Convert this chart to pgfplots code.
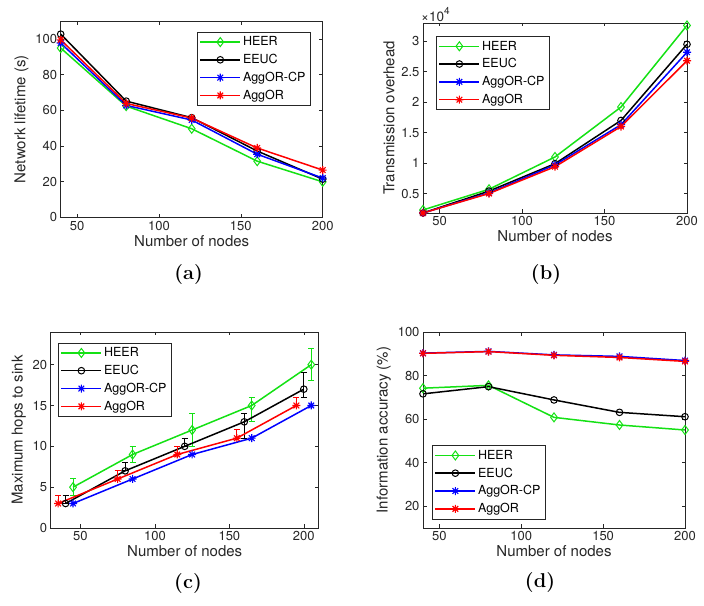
\documentclass[border=0pt]{standalone}
\usepackage{fontspec}
\setsansfont{TeX Gyre Heros}
\usepackage{pgfplots}
\pgfplotsset{compat=1.18}

\definecolor{mgreen}{RGB}{20,225,20}
\definecolor{axgray}{RGB}{38,38,38}

% matlab style asterisk: + and x together
\pgfdeclareplotmark{mstar}{%
  \pgfpathmoveto{\pgfqpoint{-\pgfplotmarksize}{0pt}}\pgfpathlineto{\pgfqpoint{\pgfplotmarksize}{0pt}}%
  \pgfpathmoveto{\pgfqpoint{0pt}{-\pgfplotmarksize}}\pgfpathlineto{\pgfqpoint{0pt}{\pgfplotmarksize}}%
  \pgfpathmoveto{\pgfqpoint{-.707\pgfplotmarksize}{-.707\pgfplotmarksize}}\pgfpathlineto{\pgfqpoint{.707\pgfplotmarksize}{.707\pgfplotmarksize}}%
  \pgfpathmoveto{\pgfqpoint{-.707\pgfplotmarksize}{.707\pgfplotmarksize}}\pgfpathlineto{\pgfqpoint{.707\pgfplotmarksize}{-.707\pgfplotmarksize}}%
  \pgfusepathqstroke}

\pgfplotsset{
  panel/.style={
    scale only axis, anchor=south west, font=\sffamily,
    axis line style={axgray, line width=0.7pt},
    tick style={axgray, line width=0.6pt}, major tick length=3.5pt, tick align=inside,
    tick label style={font=\sffamily\fontsize{13}{13}\selectfont, text=axgray},
    /pgf/number format/assume math mode=true,
    label style={font=\sffamily\fontsize{15}{15}\selectfont, text=axgray},
    xlabel={Number of nodes},
    xlabel style={yshift=2pt},
    legend style={font=\sffamily\fontsize{12.5}{13}\selectfont, draw=axgray,
      row sep=3pt, inner sep=2.5pt, cells={anchor=west}},
    legend image code/.code={\draw[mark repeat=2,mark phase=2]
      plot coordinates {(0pt,0pt) (20pt,0pt) (40pt,0pt)};},
  },
  heer/.style={mgreen, line width=1.5pt, mark=diamond, mark size=4.5pt, mark options={solid, line width=1pt}},
  eeuc/.style={black, line width=1.5pt, mark=o, mark size=3.3pt, mark options={solid, line width=1pt}},
  aggcp/.style={blue, line width=1.5pt, mark=mstar, mark size=4pt, mark options={solid, line width=1.1pt}},
  aggor/.style={red, line width=1.5pt, mark=mstar, mark size=4pt, mark options={solid, line width=1.1pt}},
  ebar/.style={error bars/.cd, y dir=both, y explicit,
    error bar style={line width=1pt},
    error mark options={rotate=90, mark size=3pt, line width=1pt}},
}

\begin{document}
\begin{tikzpicture}
\useasboundingbox (0,0) rectangle (704pt,605pt);

% (a) lifetime
\begin{axis}[panel, at={(60.7pt,387.7pt)}, width=262pt, height=196pt,
  xmin=40, xmax=200, ymin=0, ymax=110,
  xtick={50,100,150,200}, ytick={0,20,40,60,80,100},
  ylabel={Network lifetime (s)},
  legend style={at={(0.952,0.945)}, anchor=north east}]
\addplot[heer] coordinates {(40,95) (80,62.4) (120,49.7) (160,31.5) (200,19.9)};
\addplot[eeuc] coordinates {(40,102.8) (80,65.2) (120,55.9) (160,37.2) (200,21.4)};
\addplot[aggcp] coordinates {(40,97.8) (80,62.8) (120,54.6) (160,35.4) (200,22)};
\addplot[aggor] coordinates {(40,99.6) (80,63.9) (120,55.7) (160,38.9) (200,26.5)};
\legend{HEER,EEUC,AggOR-CP,AggOR}
\end{axis}

% (b) overhead
\begin{axis}[panel, at={(423pt,392pt)}, width=264pt, height=190pt,
  xmin=40, xmax=200, ymin=1800, ymax=33000,
  xtick={50,100,150,200}, ytick={5000,10000,15000,20000,25000,30000},
  yticklabels={0.5,1,1.5,2,2.5,3}, scaled y ticks=false,
  ylabel={Transmission overhead},
  legend style={at={(0.049,0.93)}, anchor=north west}]
\addplot[heer] coordinates {(40,2300) (80,5700) (120,11000) (160,19200) (200,32600)};
\addplot[eeuc] coordinates {(40,1800) (80,5400) (120,9900) (160,17000) (200,29500)};
\addplot[aggcp] coordinates {(40,1800) (80,5100) (120,9700) (160,16300) (200,28200)};
\addplot[aggor] coordinates {(40,1800) (80,5000) (120,9400) (160,16000) (200,26800)};
\legend{HEER,EEUC,AggOR-CP,AggOR}
\end{axis}
\node[anchor=south west, inner sep=1pt, text=axgray, font=\sffamily\fontsize{13.5}{13.5}\selectfont]
  at (420pt,582pt) {×10\raisebox{0.5em}{\fontsize{10}{10}\selectfont 4}};

% (c) hops
\begin{axis}[panel, at={(50.7pt,77pt)}, width=268pt, height=196pt,
  xmin=30, xmax=210, ymin=0, ymax=24,
  xtick={50,100,150,200}, ytick={0,5,10,15,20},
  ylabel={Maximum hops to sink},
  legend style={at={(0.027,0.944)}, anchor=north west}]
\addplot[heer, ebar] table[x=x, y=y, y error plus=ep, y error minus=em] {
x   y   ep  em
45  5   1   1
85  9   1   1
125 12  2   2
165 15  1   2
205 20  2   2
};
\addplot[eeuc, ebar] table[x=x, y=y, y error plus=ep, y error minus=em] {
x   y   ep  em
40  3   1   0
80  7   1   0
120 10  1   0
160 13  1   2
200 17  2   1
};
\addplot[aggcp] coordinates {(45,3) (85,6) (125,9) (165,11) (205,15)};
\addplot[aggor, ebar] table[x=x, y=y, y error plus=ep, y error minus=em] {
x   y   ep  em
35  3   1   0
75  6   1   0
115 9   1   0
155 11  1   0
195 15  1   0
};
\legend{HEER,EEUC,AggOR-CP,AggOR}
\end{axis}

% (d) accuracy
\begin{axis}[panel, at={(423pt,77pt)}, width=262pt, height=196pt,
  xmin=40, xmax=200, ymin=10, ymax=100,
  xtick={50,100,150,200}, ytick={20,40,60,80,100},
  ylabel={Information accuracy (\%)},
  legend style={at={(0.034,0.046)}, anchor=south west}]
\addplot[heer] coordinates {(40,74.2) (80,75.5) (120,60.8) (160,57.3) (200,55)};
\addplot[eeuc] coordinates {(40,71.6) (80,74.9) (120,68.8) (160,63.1) (200,61.1)};
\addplot[aggcp] coordinates {(40,90.3) (80,91.1) (120,89.5) (160,88.8) (200,86.9)};
\addplot[aggor] coordinates {(40,90.2) (80,91) (120,89.3) (160,88.3) (200,86.5)};
\legend{HEER,EEUC,AggOR-CP,AggOR}
\end{axis}

\node[font=\rmfamily\bfseries\fontsize{20}{20}\selectfont] at (188.7pt,330pt) {(a)};
\node[font=\rmfamily\bfseries\fontsize{20}{20}\selectfont] at (546pt,330pt) {(b)};
\node[font=\rmfamily\bfseries\fontsize{20}{20}\selectfont] at (188pt,21pt) {(c)};
\node[font=\rmfamily\bfseries\fontsize{20}{20}\selectfont] at (540pt,22pt) {(d)};
\end{tikzpicture}
\end{document}
